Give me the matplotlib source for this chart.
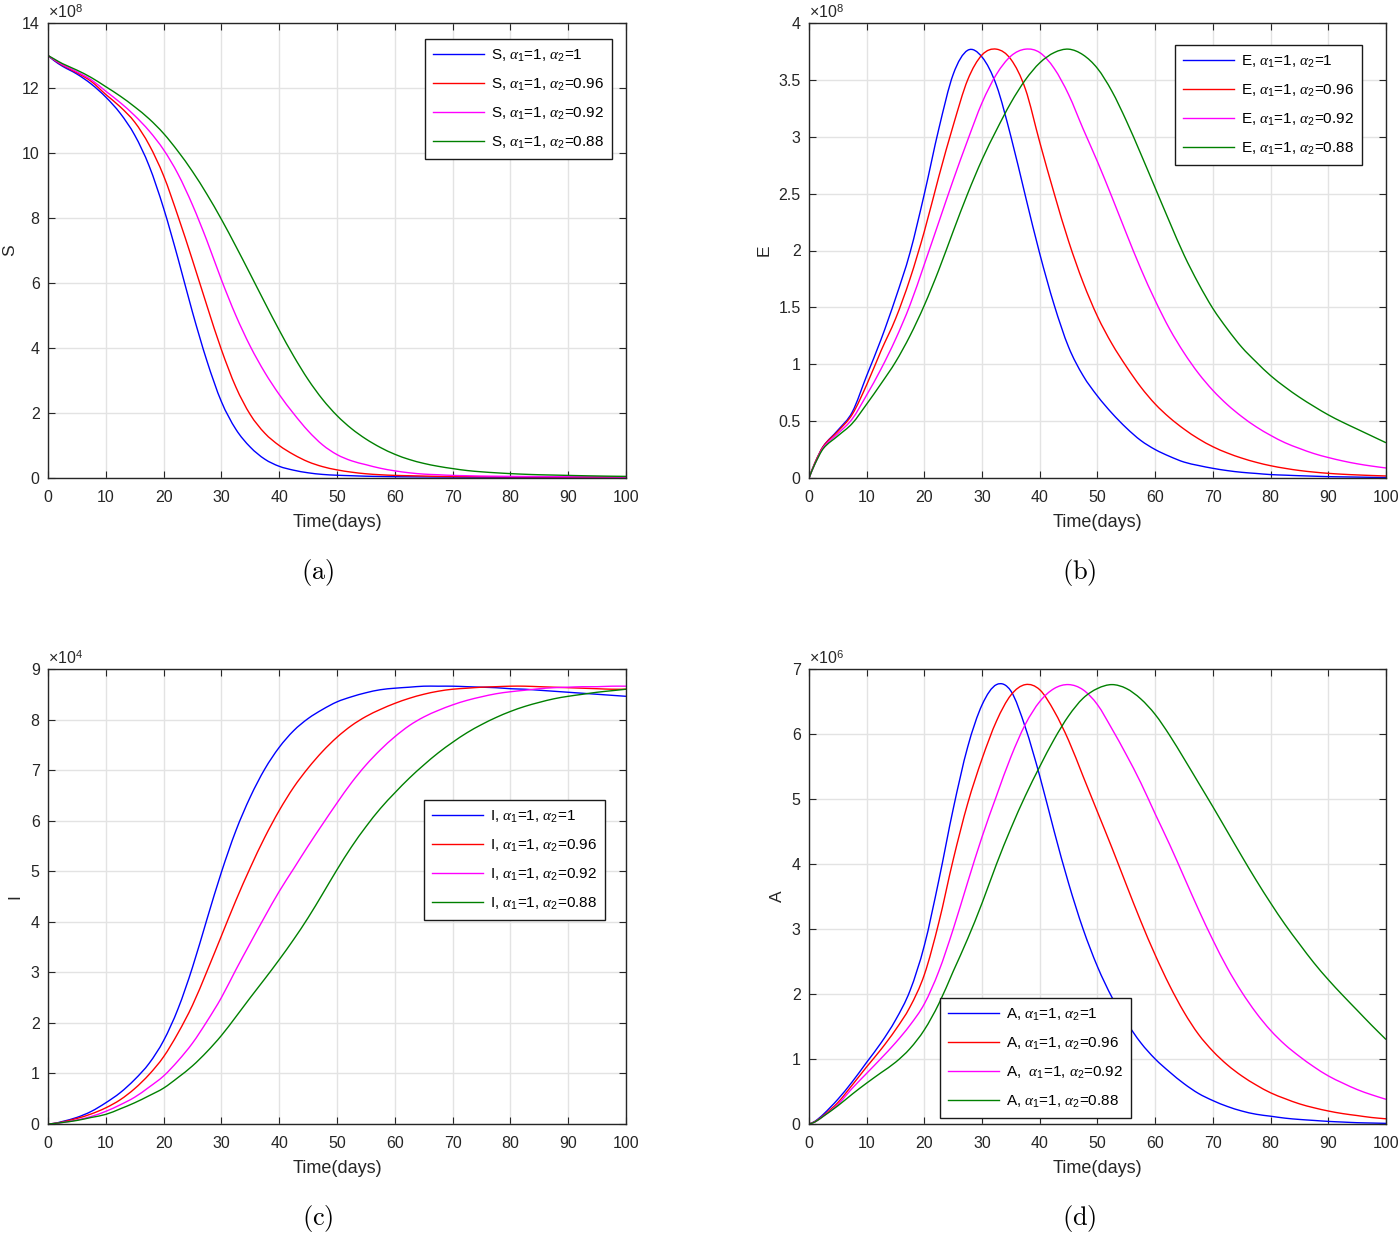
import matplotlib
matplotlib.use("Agg")
import matplotlib.pyplot as plt
from matplotlib.ticker import FuncFormatter
from matplotlib.path import Path
from matplotlib.patches import PathPatch

plt.rcParams['font.family'] = ['Liberation Sans', 'DejaVu Sans']
plt.rcParams['mathtext.fontset'] = 'custom'
plt.rcParams['mathtext.rm'] = 'Liberation Sans'
plt.rcParams['mathtext.it'] = 'Liberation Serif:italic'
plt.rcParams['mathtext.bf'] = 'Liberation Sans:bold'

# time (days)
t = [0, 1, 2.5, 5, 7.5, 10, 12.5, 15, 17.5, 20, 22.5, 25, 27.5, 30, 32.5, 35, 37.5, 40,
     42.5, 45, 47.5, 50, 52.5, 55, 57.5, 60, 62.5, 65, 67.5, 70, 72.5, 75, 77.5, 80,
     82.5, 85, 87.5, 90, 92.5, 95, 97.5, 100]

alphas2 = ['1', '0.96', '0.92', '0.88']

# S (x 1e8)
S_a1 = [13.0, 12.85, 12.67, 12.43, 12.12, 11.72, 11.22, 10.55, 9.6, 8.3, 6.75, 5.1, 3.6, 2.35,
        1.5, 0.95, 0.58, 0.36, 0.24, 0.16, 0.11, 0.085, 0.07, 0.055, 0.047, 0.04, 0.036, 0.033,
        0.03, 0.028, 0.026, 0.025, 0.024, 0.023, 0.022, 0.021, 0.02, 0.02, 0.02, 0.02, 0.02, 0.02]
S_a096 = [13.0, 12.87, 12.7, 12.47, 12.2, 11.8, 11.42, 10.95, 10.25, 9.3, 8.05, 6.7, 5.3, 3.95,
          2.8, 1.95, 1.38, 1.0, 0.72, 0.5, 0.35, 0.25, 0.18, 0.13, 0.1, 0.08, 0.07, 0.06,
          0.05, 0.045, 0.042, 0.04, 0.038, 0.036, 0.035, 0.034, 0.033, 0.032, 0.031, 0.03, 0.03, 0.03]
S_a092 = [13.0, 12.88, 12.72, 12.5, 12.25, 11.9, 11.55, 11.15, 10.68, 10.1, 9.35, 8.4, 7.3, 6.1,
          5.0, 4.05, 3.25, 2.57, 1.98, 1.45, 1.02, 0.72, 0.53, 0.41, 0.3, 0.22, 0.16, 0.12,
          0.1, 0.08, 0.07, 0.06, 0.055, 0.05, 0.047, 0.045, 0.042, 0.04, 0.037, 0.035, 0.032, 0.03]
S_a088 = [13.0, 12.9, 12.75, 12.55, 12.32, 12.04, 11.75, 11.42, 11.05, 10.6, 10.05, 9.43, 8.73, 7.96,
          7.13, 6.27, 5.4, 4.55, 3.75, 3.03, 2.42, 1.92, 1.52, 1.2, 0.94, 0.73, 0.57, 0.45,
          0.36, 0.29, 0.23, 0.19, 0.16, 0.135, 0.115, 0.1, 0.09, 0.08, 0.07, 0.062, 0.055, 0.05]

# E (x 1e8)
E_a1 = [0, 0.13, 0.28, 0.42, 0.58, 0.9, 1.22, 1.58, 1.98, 2.5, 3.07, 3.55, 3.76, 3.7,
        3.45, 3.0, 2.48, 1.97, 1.52, 1.15, 0.9, 0.72, 0.57, 0.44, 0.33, 0.25, 0.19, 0.14,
        0.11, 0.085, 0.065, 0.05, 0.04, 0.03, 0.025, 0.02, 0.016, 0.012, 0.01, 0.008, 0.006, 0.005]
E_a096 = [0, 0.13, 0.28, 0.41, 0.56, 0.82, 1.12, 1.4, 1.75, 2.17, 2.65, 3.1, 3.5, 3.72,
          3.77, 3.68, 3.42, 2.95, 2.5, 2.08, 1.72, 1.42, 1.18, 0.98, 0.8, 0.65, 0.53, 0.43,
          0.345, 0.275, 0.22, 0.175, 0.138, 0.108, 0.085, 0.066, 0.052, 0.041, 0.033, 0.027, 0.022, 0.018]
E_a092 = [0, 0.12, 0.27, 0.39, 0.52, 0.73, 0.96, 1.22, 1.52, 1.88, 2.25, 2.62, 2.97, 3.3,
          3.55, 3.71, 3.77, 3.74, 3.6, 3.37, 3.07, 2.78, 2.47, 2.15, 1.84, 1.56, 1.31, 1.1,
          0.92, 0.77, 0.645, 0.54, 0.45, 0.375, 0.31, 0.26, 0.215, 0.18, 0.15, 0.125, 0.105, 0.088]
E_a088 = [0, 0.12, 0.26, 0.37, 0.48, 0.65, 0.83, 1.02, 1.25, 1.52, 1.83, 2.17, 2.5, 2.8,
          3.06, 3.3, 3.5, 3.65, 3.74, 3.77, 3.72, 3.6, 3.4, 3.14, 2.85, 2.55, 2.25, 1.96,
          1.71, 1.49, 1.31, 1.15, 1.02, 0.9, 0.8, 0.71, 0.63, 0.555, 0.49, 0.43, 0.37, 0.31]

# I (x 1e4)
I_a1 = [0, 0.01, 0.05, 0.13, 0.25, 0.42, 0.62, 0.88, 1.2, 1.65, 2.28, 3.1, 4.05, 4.98,
        5.8, 6.47, 7.02, 7.45, 7.78, 8.02, 8.2, 8.35, 8.45, 8.53, 8.59, 8.62, 8.64, 8.66,
        8.66, 8.66, 8.65, 8.64, 8.63, 8.61, 8.6, 8.58, 8.56, 8.54, 8.52, 8.5, 8.48, 8.46]
I_a096 = [0, 0.01, 0.04, 0.11, 0.2, 0.32, 0.48, 0.7, 0.98, 1.33, 1.8, 2.35, 3.02, 3.72,
          4.42, 5.07, 5.67, 6.2, 6.66, 7.04, 7.37, 7.65, 7.88, 8.06, 8.2, 8.32, 8.42, 8.5,
          8.56, 8.6, 8.62, 8.64, 8.65, 8.66, 8.66, 8.65, 8.64, 8.63, 8.62, 8.61, 8.6, 8.6]
I_a092 = [0, 0.01, 0.03, 0.08, 0.15, 0.25, 0.38, 0.53, 0.73, 0.95, 1.25, 1.6, 2.03, 2.5,
          3.05, 3.58, 4.1, 4.6, 5.05, 5.5, 5.93, 6.35, 6.75, 7.1, 7.4, 7.66, 7.88, 8.05,
          8.18, 8.29, 8.38, 8.45, 8.51, 8.55, 8.58, 8.61, 8.63, 8.64, 8.65, 8.65, 8.66, 8.66]
I_a088 = [0, 0.01, 0.03, 0.07, 0.13, 0.19, 0.3, 0.42, 0.56, 0.71, 0.92, 1.15, 1.43, 1.75,
          2.12, 2.5, 2.87, 3.25, 3.65, 4.08, 4.55, 5.03, 5.48, 5.88, 6.24, 6.55, 6.84, 7.1,
          7.34, 7.55, 7.74, 7.9, 8.04, 8.16, 8.26, 8.34, 8.41, 8.46, 8.5, 8.54, 8.57, 8.6]

# A (x 1e6)
A_a1 = [0, 0.04, 0.15, 0.38, 0.65, 0.95, 1.25, 1.6, 2.05, 2.75, 3.75, 4.85, 5.8, 6.45,
        6.76, 6.66, 6.1, 5.35, 4.5, 3.7, 3.0, 2.42, 1.95, 1.57, 1.25, 1.0, 0.8, 0.62,
        0.47, 0.36, 0.27, 0.2, 0.15, 0.12, 0.09, 0.07, 0.055, 0.04, 0.03, 0.02, 0.015, 0.01]
A_a096 = [0, 0.035, 0.13, 0.33, 0.6, 0.88, 1.15, 1.45, 1.8, 2.3, 3.1, 4.07, 4.93, 5.62,
          6.2, 6.6, 6.76, 6.68, 6.35, 5.9, 5.35, 4.8, 4.25, 3.68, 3.12, 2.6, 2.13, 1.72,
          1.38, 1.12, 0.91, 0.74, 0.6, 0.48, 0.39, 0.31, 0.25, 0.2, 0.16, 0.13, 0.1, 0.08]
A_a092 = [0, 0.03, 0.12, 0.3, 0.55, 0.78, 1.01, 1.25, 1.52, 1.85, 2.35, 3.0, 3.72, 4.42,
          5.05, 5.65, 6.15, 6.5, 6.7, 6.76, 6.68, 6.45, 6.08, 5.68, 5.25, 4.77, 4.3, 3.8,
          3.3, 2.83, 2.4, 2.03, 1.71, 1.44, 1.22, 1.04, 0.88, 0.74, 0.63, 0.53, 0.45, 0.38]
A_a088 = [0, 0.03, 0.12, 0.28, 0.46, 0.63, 0.79, 0.95, 1.16, 1.45, 1.85, 2.35, 2.85, 3.4,
          4.0, 4.55, 5.05, 5.5, 5.92, 6.28, 6.55, 6.7, 6.76, 6.7, 6.54, 6.3, 5.98, 5.62,
          5.25, 4.88, 4.5, 4.12, 3.75, 3.4, 3.07, 2.77, 2.48, 2.22, 1.98, 1.75, 1.52, 1.3]

colors = ['#0000ff', '#ff0000', '#ff00ff', '#008000']

panels = [
    dict(var='S', series=[S_a1, S_a096, S_a092, S_a088], ylim=(0, 14), yticks=[0, 2, 4, 6, 8, 10, 12, 14],
         exp='8', cap='(a)', rect=[48, 23, 626, 478], leg=(425, 39), capxy=(318, 573), ylx=10,
         sep=[', ', ', ', ', ', ', ']),
    dict(var='E', series=[E_a1, E_a096, E_a092, E_a088], ylim=(0, 4), yticks=[0, 0.5, 1, 1.5, 2, 2.5, 3, 3.5, 4],
         exp='8', cap='(b)', rect=[809, 23, 1386, 478], leg=(1175, 45), capxy=(1079, 573), ylx=764,
         sep=[', ', ', ', ', ', ', ']),
    dict(var='I', series=[I_a1, I_a096, I_a092, I_a088], ylim=(0, 9), yticks=list(range(10)),
         exp='4', cap='(c)', rect=[48, 669, 626, 1124], leg=(424, 800), capxy=(318, 1219), ylx=15,
         sep=[', ', ', ', ', ', ', ']),
    dict(var='A', series=[A_a1, A_a096, A_a092, A_a088], ylim=(0, 7), yticks=list(range(8)),
         exp='6', cap='(d)', rect=[809, 669, 1386, 1124], leg=(940, 998), capxy=(1079, 1219), ylx=777,
         sep=[', ', ', ', ',  ', ', ']),
]


def smooth_curve(x, y):
    """Cubic Bezier path passing through every read point (drawing only)."""
    n = len(x)
    m = []
    for i in range(n):
        if i == 0:
            m.append((y[1] - y[0]) / (x[1] - x[0]))
        elif i == n - 1:
            m.append((y[-1] - y[-2]) / (x[-1] - x[-2]))
        else:
            m.append((y[i + 1] - y[i - 1]) / (x[i + 1] - x[i - 1]))
    verts = [(x[0], y[0])]
    codes = [Path.MOVETO]
    for i in range(n - 1):
        h = x[i + 1] - x[i]
        verts += [(x[i] + h / 3, y[i] + m[i] * h / 3),
                  (x[i + 1] - h / 3, y[i + 1] - m[i + 1] * h / 3),
                  (x[i + 1], y[i + 1])]
        codes += [Path.CURVE4] * 3
    return Path(verts, codes)


W, H = 1399, 1236
fig = plt.figure(figsize=(W / 100, H / 100), dpi=100)
tc = '#262626'


def fmt(v, pos):
    return '%g' % v


for p in panels:
    x0, y0, x1, y1 = p['rect']
    ax = fig.add_axes([x0 / W, 1 - y1 / H, (x1 - x0) / W, (y1 - y0) / H])
    for ser, col, a2, sp in zip(p['series'], colors, alphas2, p['sep']):
        ax.add_patch(PathPatch(smooth_curve(t, ser), fill=False, edgecolor=col, lw=1.0))
        ax.plot([], [], color=col, lw=1.0,
                label=p['var'] + sp + r'$\alpha_1$=1, $\alpha_2$=' + a2)
    ax.set_xlim(0, 100)
    ax.set_ylim(*p['ylim'])
    ax.set_xticks(range(0, 101, 10))
    ax.set_yticks(p['yticks'])
    ax.yaxis.set_major_formatter(FuncFormatter(fmt))
    ax.grid(True, color='#e3e3e3', lw=1.0)
    ax.set_axisbelow(True)
    ax.tick_params(direction='in', length=5, width=0.8, colors=tc, labelsize=11.5,
                   top=True, right=True)
    ax.tick_params(axis='x', pad=9)
    ax.tick_params(axis='y', pad=6)
    for s in ax.spines.values():
        s.set_color(tc)
        s.set_linewidth(1.0)
    ax.set_xlabel('Time(days)', fontsize=13, color=tc, labelpad=6)
    ax.set_ylabel(p['var'], fontsize=12.5, color=tc, va='center')
    ax.yaxis.set_label_coords((p['ylx'] - x0) / (x1 - x0), 0.5)
    ax.text(0.0, 1.004, r'$\times10^{' + p['exp'] + '}$', transform=ax.transAxes,
            fontsize=11.5, color=tc, ha='left', va='bottom')
    lx, ly = p['leg']
    leg = ax.legend(loc='upper left', bbox_to_anchor=(lx / W, 1 - ly / H),
                    bbox_transform=fig.transFigure, fontsize=11, frameon=True,
                    fancybox=False, edgecolor='#1a1a1a', handlelength=3.3,
                    borderaxespad=0, borderpad=0.55, labelspacing=0.85, handletextpad=0.45)
    leg.get_frame().set_linewidth(1.0)
    leg.get_frame().set_alpha(1.0)
    cx, cy = p['capxy']
    fig.text(cx / W, 1 - cy / H, r'$\mathrm{' + p['cap'] + '}$',
             fontsize=19, ha='center', va='center', math_fontfamily='cm')

fig.savefig('out.png', dpi=100)
